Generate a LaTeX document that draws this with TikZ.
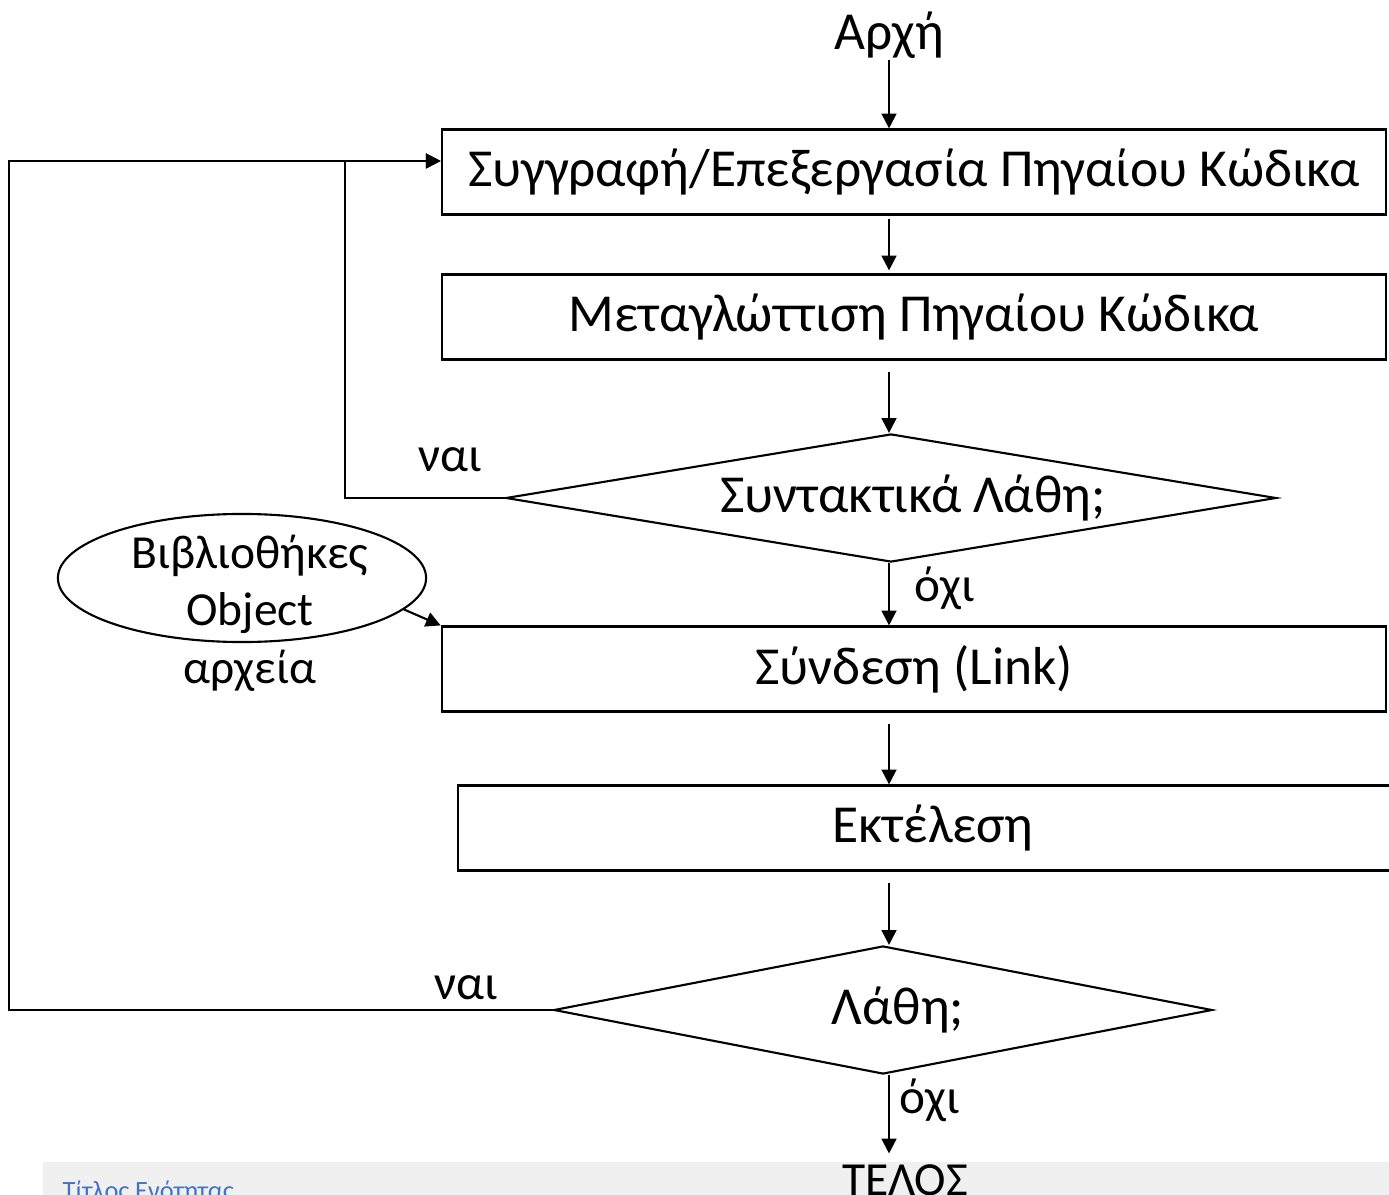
\documentclass[tikz,border=0pt]{standalone}
\usepackage{fontspec}
\setmainfont{Carlito}
\usepackage{xcolor}
\usetikzlibrary{shapes,arrows.meta,positioning}
\definecolor{bandgray}{HTML}{F0F0F0}
\definecolor{titleblue}{HTML}{4472C4}

\begin{document}
\begin{tikzpicture}[
    x=0.01cm, y=-0.01cm,
    box/.style={rectangle, draw, line width=0.6pt, minimum width=9.44cm, minimum height=0.85cm, inner sep=0pt, align=center, font=\fontsize{15.2}{18}\selectfont},
    decision/.style={diamond, draw, line width=0.6pt, aspect=6, inner sep=0pt, font=\fontsize{15.2}{18}\selectfont},
    lbl/.style={inner sep=0pt, font=\fontsize{14}{16.4}\selectfont},
    big/.style={inner sep=0pt, font=\fontsize{15.2}{18}\selectfont},
    arrow/.style={-{Triangle[length=4.2pt,width=4.2pt]}, line width=0.6pt}
]
    \useasboundingbox (0,0) rectangle (1389,1195);

    % Footer band
    \fill[bandgray] (43,1162) rectangle (1400,1230);
    \node[anchor=base west, inner sep=0pt, text=titleblue, font=\fontsize{7.5}{9}\selectfont] (title) at (62,1199) {Τίτλος Ενότητας};

    % Start / end
    \node[big, anchor=base] (start) at (889,50) {Αρχή};
    \node[big, anchor=base, font=\fontsize{13.5}{16}\selectfont] (end) at (905,1195) {ΤΕΛΟΣ};

    % Steps
    \node[box] (edit) at (914,172) {Συγγραφή/Επεξεργασία Πηγαίου Κώδικα};
    \node[box] (compile) at (914,317) {Μεταγλώττιση Πηγαίου Κώδικα};
    \node[decision, minimum width=7.7cm, minimum height=1.28cm] (syntax) at (891,498) {\hspace*{0.44cm}Συντακτικά Λάθη;};
    \node[box] (link) at (914,669) {Σύνδεση (Link)};
    \node[box, minimum width=9.5cm] (run) at (933,828) {Εκτέλεση};
    \node[decision, minimum width=6.58cm, minimum height=1.28cm] (errors) at (883,1010) {\hspace*{0.3cm}Λάθη;};

    % Libraries
    \node[ellipse, draw, line width=0.6pt, minimum width=3.68cm, minimum height=1.28cm, inner sep=0pt] (libs) at (242,578) {};
    \node[lbl, align=center, font=\fontsize{13.5}{16.4}\selectfont] (libstext) at (250,613) {Βιβλιοθήκες\\Object\\αρχεία};

    % Labels
    \node[lbl] (yes1) at (450,460) {ναι};
    \node[lbl] (no1) at (945,588) {όχι};
    \node[lbl] (yes2) at (466,988) {ναι};
    \node[lbl] (no2) at (930,1100) {όχι};

    % Arrows
    \draw[arrow] (start.south) -- (start.south |- edit.north);
    \draw[arrow, shorten <=0.03cm, shorten >=0.03cm] (start |- edit.south) -- (start |- compile.north);
    \draw[arrow, shorten <=0.11cm] (start |- compile.south) -- (start |- syntax.north);
    \draw[arrow] (start |- syntax.south) -- (start |- link.north);
    \draw[arrow, shorten <=0.11cm] (start |- link.south) -- (start |- run.north);
    \draw[arrow, shorten <=0.11cm] (start |- run.south) -- (start |- errors.north);
    \draw[arrow, shorten >=0.1cm] (start |- errors.south) -- (start |- end.north);
    \draw[arrow] (libs.-11) -- (link.north west);

    % Loops back
    \draw[arrow] (syntax.west) -- ++(-160,0) |- ([yshift=0.11cm]edit.west);
    \draw[arrow] (errors.west) -- ++(-544,0) |- ([yshift=0.11cm]edit.west);

\end{tikzpicture}
\end{document}
